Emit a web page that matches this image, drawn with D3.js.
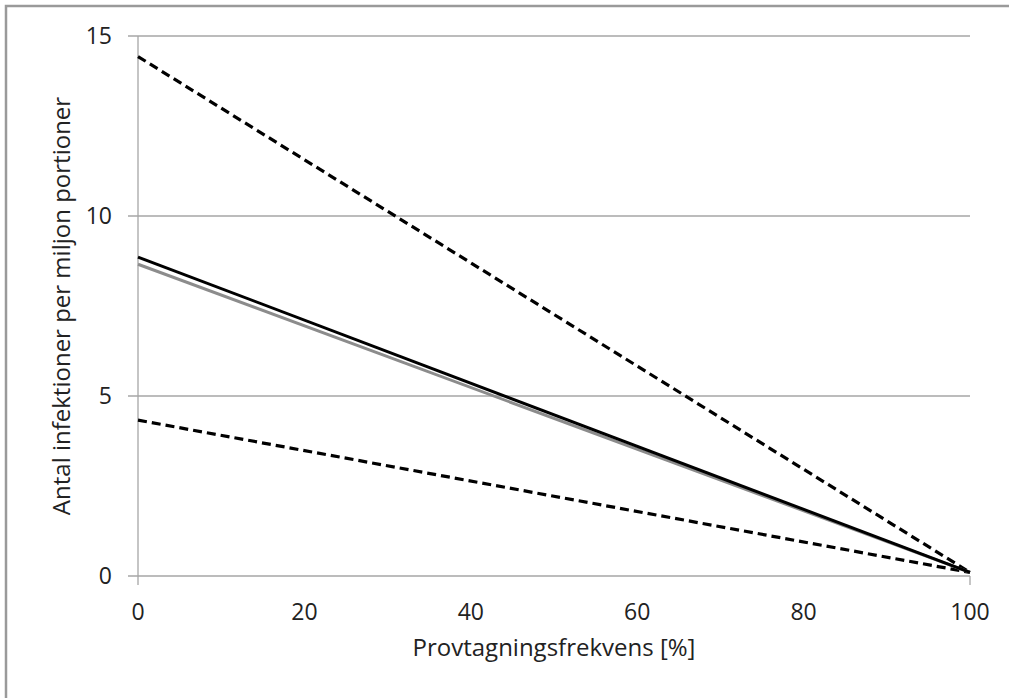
<!DOCTYPE html>
<html lang="sv">
<head>
<meta charset="utf-8">
<script src="https://d3js.org/d3.v7.min.js"></script>
<style>
  body { margin: 0; background: #fff; }
  text { font-family: "Open Sans", "Liberation Sans", sans-serif; fill: #222; }
</style>
</head>
<body>
<script>
// x values (sampling frequency, %)
var xs = [0, 100];
// series values at each x
var upper = [14.43, 0.1];
var mean = [8.86, 0.1];
var model = [8.66, 0.1];
var lower = [4.33, 0.1];
var yTicks = [0, 5, 10, 15];
var xTicks = [0, 20, 40, 60, 80, 100];

const W = 1009, H = 698;
const plotL = 138, plotR = 970, plotT = 36, plotB = 576;

const svg = d3.select("body").append("svg")
  .attr("width", W).attr("height", H);

// outer border (only top & left visible in frame)
svg.append("rect")
  .attr("x", 6).attr("y", 6).attr("width", W + 20).attr("height", H + 20)
  .attr("fill", "none").attr("stroke", "#9a9a9a").attr("stroke-width", 2.5);

const x = d3.scaleLinear().domain([0, 100]).range([plotL, plotR]);
const y = d3.scaleLinear().domain([0, 15]).range([plotB, plotT]);

// horizontal gridlines
svg.append("g").selectAll("line")
  .data(yTicks)
  .enter().append("line")
  .attr("x1", plotL - 10).attr("x2", plotR)
  .attr("y1", d => y(d)).attr("y2", d => y(d))
  .attr("stroke", "#a6a6a6").attr("stroke-width", 1.3);

// y axis line
svg.append("line")
  .attr("x1", x(0)).attr("x2", x(0))
  .attr("y1", plotT).attr("y2", plotB + 9)
  .attr("stroke", "#a6a6a6").attr("stroke-width", 1.3);
// tick at right end
svg.append("line")
  .attr("x1", x(100)).attr("x2", x(100))
  .attr("y1", plotB).attr("y2", plotB + 9)
  .attr("stroke", "#a6a6a6").attr("stroke-width", 1.3);

// y tick labels
svg.append("g").selectAll("text")
  .data(yTicks)
  .enter().append("text")
  .attr("x", plotL - 26).attr("y", d => y(d))
  .attr("dy", "0.35em")
  .attr("text-anchor", "end")
  .attr("font-size", 23)
  .text(d => d);

// x tick labels
svg.append("g").selectAll("text")
  .data(xTicks)
  .enter().append("text")
  .attr("x", d => x(d)).attr("y", plotB + 36)
  .attr("dy", "0.35em")
  .attr("text-anchor", "middle")
  .attr("font-size", 23)
  .text(d => d);

// axis titles
svg.append("text")
  .attr("x", (plotL + plotR) / 2).attr("y", 656)
  .attr("text-anchor", "middle")
  .attr("font-size", 24)
  .text("Provtagningsfrekvens [%]");

svg.append("text")
  .attr("transform", "translate(70," + (plotT + plotB) / 2 + ") rotate(-90)")
  .attr("text-anchor", "middle")
  .attr("font-size", 24)
  .text("Antal infektioner per miljon portioner");

const line = d3.line()
  .x(d => x(d[0]))
  .y(d => y(d[1]));

function pts(vals) { return xs.map((v, i) => [v, vals[i]]); }

var series = [
  { v: lower, color: "#000", dash: "9,5", w: 3.2 },
  { v: upper, color: "#000", dash: "9,5", w: 3.2 },
  { v: model, color: "#8c8c8c", dash: null, w: 3 },
  { v: mean, color: "#000", dash: null, w: 3 }
];

svg.append("g").selectAll("path")
  .data(series)
  .enter().append("path")
  .attr("d", d => line(pts(d.v)))
  .attr("fill", "none")
  .attr("stroke", d => d.color)
  .attr("stroke-width", d => d.w)
  .attr("stroke-dasharray", d => d.dash);
</script>
</body>
</html>
